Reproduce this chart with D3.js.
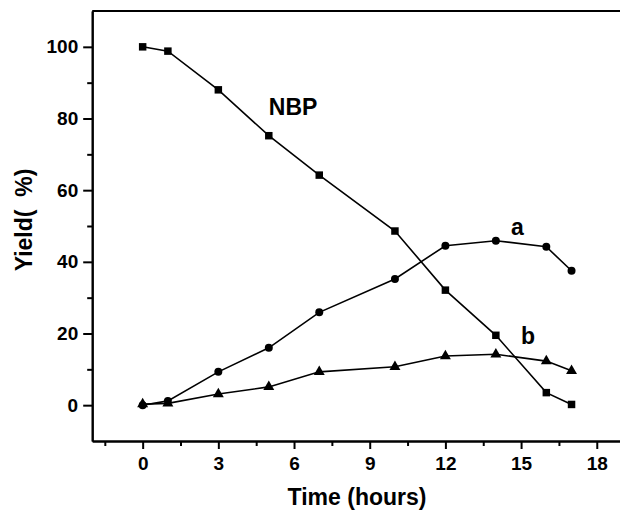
<!DOCTYPE html>
<html>
<head>
<meta charset="utf-8">
<script src="https://cdn.jsdelivr.net/npm/d3@7"></script>
<style>
html,body{margin:0;padding:0;background:#fff;}
svg text{font-family:"Liberation Sans",Arial,Helvetica,sans-serif;font-weight:bold;fill:#000;}
</style>
</head>
<body>
<svg id="chart" width="620" height="511"></svg>
<script>
const times = [0, 1, 3, 5, 7, 10, 12, 14, 16, 17];
const nbp = [100, 98.8, 88.0, 75.2, 64.2, 48.6, 32.1, 19.5, 3.5, 0.2];
const seriesA = [0, 1.2, 9.3, 16.0, 25.9, 35.2, 44.5, 45.9, 44.2, 37.5];
const seriesB = [0.3, 0.5, 3.1, 5.1, 9.3, 10.7, 13.7, 14.2, 12.3, 9.6];
const xMajorTicks = [0, 3, 6, 9, 12, 15, 18];
const xMinorTicks = [-1.5, 1.5, 4.5, 7.5, 10.5, 13.5, 16.5];
const yMajorTicks = [0, 20, 40, 60, 80, 100];
const yMinorTicks = [10, 30, 50, 70, 90];
const seriesLabels = [
  {text: "NBP", x: 5, y: 81},
  {text: "a", x: 14.6, y: 47.5},
  {text: "b", x: 15.0, y: 17}
];

const svg = d3.select("#chart");
const x = d3.scaleLinear().domain([-2, 19]).range([92.2, 622]);
const y = d3.scaleLinear().domain([-10, 110]).range([441, 11]);

// frame (top and right)
svg.append("line").attr("x1", x(-2)).attr("x2", x(19)).attr("y1", y(110)).attr("y2", y(110))
  .attr("stroke", "#000").attr("stroke-width", 2);
svg.append("line").attr("x1", x(19)).attr("x2", x(19)).attr("y1", y(110)).attr("y2", y(-10))
  .attr("stroke", "#000").attr("stroke-width", 2);

function styleAxis(g) {
  g.select(".domain").attr("stroke-width", 2).attr("stroke", "#000");
  g.selectAll(".tick line").attr("stroke-width", 2).attr("stroke", "#000");
  g.selectAll(".tick text").style("font-size", "19px");
}

// x axis
const gx = svg.append("g").attr("transform", `translate(0,${y(-10)})`)
  .call(d3.axisBottom(x).tickValues(xMajorTicks).tickSize(8).tickPadding(8).tickFormat(d3.format("d")).tickSizeOuter(0));
styleAxis(gx);
const gxm = svg.append("g").attr("transform", `translate(0,${y(-10)})`)
  .call(d3.axisBottom(x).tickValues(xMinorTicks).tickSize(5).tickFormat("").tickSizeOuter(0));
styleAxis(gxm);

// y axis
const gy = svg.append("g").attr("transform", `translate(${x(-2)},0)`)
  .call(d3.axisLeft(y).tickValues(yMajorTicks).tickSize(9).tickPadding(5).tickFormat(d3.format("d")).tickSizeOuter(0));
styleAxis(gy);
const gym = svg.append("g").attr("transform", `translate(${x(-2)},0)`)
  .call(d3.axisLeft(y).tickValues(yMinorTicks).tickSize(5).tickFormat("").tickSizeOuter(0));
styleAxis(gym);

// axis titles
svg.append("text").attr("x", 357).attr("y", 505).attr("text-anchor", "middle")
  .style("font-size", "23px").text("Time (hours)");
svg.append("text").attr("transform", "translate(32,220) rotate(-90)").attr("text-anchor", "middle")
  .style("font-size", "23px").style("white-space", "pre").attr("xml:space", "preserve").text("Yield(  %)");

// lines
const line = d3.line().x((d, i) => x(times[i])).y(d => y(d));
[nbp, seriesA, seriesB].forEach(s => {
  svg.append("path").datum(s).attr("d", line).attr("fill", "none")
    .attr("stroke", "#000").attr("stroke-width", 1.6);
});

// markers
const sq = d3.symbol().type(d3.symbolSquare).size(56);
const ci = d3.symbol().type(d3.symbolCircle).size(50);
const tr = d3.symbol().type(d3.symbolTriangle).size(52);
svg.append("g").selectAll("path").data(nbp).join("path")
  .attr("transform", (d, i) => `translate(${x(times[i])},${y(d)})`).attr("d", sq).attr("fill", "#000");
svg.append("g").selectAll("path").data(seriesA).join("path")
  .attr("transform", (d, i) => `translate(${x(times[i])},${y(d)})`).attr("d", ci).attr("fill", "#000");
svg.append("g").selectAll("path").data(seriesB).join("path")
  .attr("transform", (d, i) => `translate(${x(times[i])},${y(d)})`).attr("d", tr).attr("fill", "#000");

// series labels
svg.append("g").selectAll("text").data(seriesLabels).join("text")
  .attr("x", d => x(d.x)).attr("y", d => y(d.y))
  .style("font-size", "23px").text(d => d.text);
</script>
</body>
</html>
